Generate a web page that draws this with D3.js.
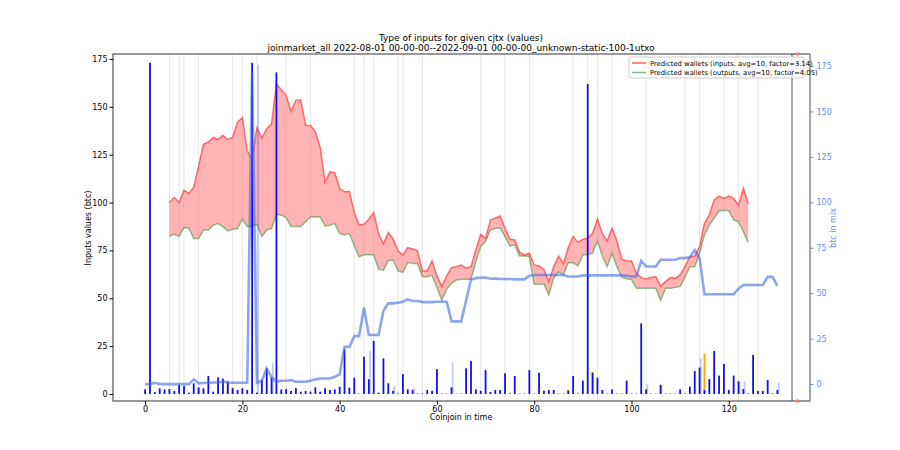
<!DOCTYPE html>
<html><head><meta charset="utf-8">
<script src="https://cdn.jsdelivr.net/npm/d3@7"></script>
<style>body{margin:0;background:#fff}svg{font-family:"DejaVu Sans",sans-serif}</style>
</head><body><svg id="c" width="900" height="450"></svg>
<script>
const titleLines = ["Type of inputs for given cjtx (values)", "joinmarket_all 2022-08-01 00-00-00--2022-09-01 00-00-00_unknown-static-100-1utxo"];
const xTicks = [0,20,40,60,80,100,120];
const yLeftTicks = [0,25,50,75,100,125,150,175];
const yRightTicks = [0,25,50,75,100,125,150,175];
const legendLabels = ["Predicted wallets (inputs, avg=10, factor=3.14)", "Predicted wallets (outputs, avg=10, factor=4.05)"];
const walletStart = 5;
const inputsWallets = [100,102.6,100,106.5,104.7,108,119,130.4,131.6,134,133,135,133,134,142,144.3,127,122.6,139,133.6,138.6,141,162,158.8,156,147.5,153.4,153.7,140.3,140.3,137,128.7,110.4,116,115.6,107.3,105.6,105.7,94.8,88.3,88.7,91.3,94.8,83.8,78.3,84.3,80.9,74.8,72.5,76.5,75.7,74.8,64.3,64.3,69.6,61.7,56.2,61.7,66,66.5,67.4,65.7,66.5,75.2,83.4,81.3,90.9,91.8,93,86.6,80.8,80.5,74,72.6,73.5,67.4,66.9,65.1,58.7,66.5,72,67.9,76.5,82.2,79.2,80.8,81.3,83.9,91.4,83.9,79.9,86.6,79.9,70.4,69.5,69.5,63,60.8,60.1,60.8,61.3,56.4,58.7,60.8,60.4,62.2,66.5,71.8,72.1,77,89.2,93.5,101.4,103.4,102.2,103.4,102.2,98.6,107.5,99.3];
const outputsWallets = [82.3,83.5,82.3,87,86.6,81.2,81.2,85.7,85.7,88.2,89,87.3,85.2,86,86.4,91.3,87.5,87.5,88.7,82.3,85.7,86.4,93.9,93.4,92.2,87.5,87.5,87.5,90,92.5,92.5,92.5,87.8,88.2,89,83.8,83.1,83.8,77.4,71.7,72.7,72.7,72.7,65.2,64.7,69.6,70,64.3,63.5,68.7,68.2,68.2,61.2,61.2,62,55.7,49,54.8,57.8,59.6,59.9,59.9,59.9,69.1,77,79.6,85.7,86.6,86.6,82.2,77.3,77.8,72.1,72.1,71.8,57.3,57.3,57.3,51.7,60.4,63.9,62.2,68.6,68.6,66.9,72.6,73,73.5,79.9,72.1,66.5,73.5,66.5,61,60.1,59.9,55.2,55.2,55.2,55.2,55.2,48.8,55.2,55.2,55.7,56.1,61,66.5,66.5,73.5,83.1,88.3,91.8,95.6,95.8,95.8,90.9,90,84.8,79.2];
const btcInMix = [0,0,0.7,0,0,0,0,0,0,0,2.6,0.4,0.6,0.7,0.9,0.9,1.5,0.9,0.7,0.7,0.7,0.7,172,0.7,1.8,8.6,4,1.3,1.8,1.8,2.2,1.3,1.3,1.3,1.8,2.6,3.1,3.1,3.1,4,5.3,20.5,20.5,26.4,26.4,42,27,27,27,40.4,44.4,44.4,44.8,45.3,46.6,45.7,45.7,45.1,45.1,45.1,45.3,45.3,45.3,34.5,34.5,34.5,46,57.4,58.3,58.6,58.6,58,58,57.8,57.8,57.8,57.6,57.6,57.6,59.6,60,60,60,60,60,60,60,59.2,59.2,59.2,59.8,59.8,59.8,59.8,59.8,59.8,59.8,59.8,59.8,59.6,59.2,59.2,67.8,64.7,64.7,64.7,68.4,68.4,68.4,68.4,69.3,69.3,69.8,73.7,69.3,49.5,49.4,49.4,49.4,49.4,49.4,49.4,52.5,54.5,54.5,54.5,54.5,54.5,59,59,54];
const inputBars = [2.4,173,1,3,2.4,2.6,1.6,4.7,4.2,0.7,5.6,3.3,3,9.4,1.2,8.7,8,6.4,3,2.1,3,2.1,173,0.7,7.3,13.4,8.7,168,2.4,2.6,1.6,3,1.2,1.6,1.2,3.5,1.2,3,2.1,2.4,3.8,23.3,3.3,8.5,0.2,19.5,7.7,27.7,0.7,18.6,5.6,1.7,0.3,10.4,2.4,2.1,0.3,0.3,2.1,1.7,13,0.2,0.2,3.5,0.2,0.2,13.4,17.2,2.4,1.7,12.5,1,2.1,2.1,10.8,0.3,9.4,0.2,0.2,12.5,0.2,11.1,1.7,2.1,2.1,0.2,0.2,1.7,9.4,0.3,7,162,11.1,8.5,2.1,0.2,2.4,0.2,0.2,7,0.2,0.2,36.9,2.4,0.2,0.2,4.7,0.2,0.2,0.2,2.4,0.2,3.8,12,13.8,2.1,7.8,22.5,9.6,15.7,2.1,9.6,6.6,2.6,0.3,20.4,1.6,1.6,7.3,0.3,2.1];
const paleBarIdx = [23,26,46,51,55,63,103,114,122,123,130];
const paleBarVal = [172,16,22.6,4.2,3,16.5,5,18.6,6.6,6.6,5.9];
const orangeBarIdx = [11,17,18,87,92,106,115];
const orangeBarVal = [3.6,7,3.4,2.4,11.5,5,21];
const gridIdx = [5,7,8,11,18,20,23,29,34,43,45,47,52,53,57,69,74,79,88,91,93,96,103,111,114,119,122,126];

const svg = d3.select("#c");
const L=113,R=810,T=54,B=401;
const x = d3.scaleLinear().domain([-6.6,136.7]).range([L,R]);
const yL = d3.scaleLinear().domain([-3.66,177.6]).range([B,T]);
const yR = d3.scaleLinear().domain([-9.3,181.6]).range([B,T]);

svg.append("g").selectAll("line").data(gridIdx).join("line")
 .attr("x1",d=>x(d)).attr("x2",d=>x(d)).attr("y1",T).attr("y2",B)
 .attr("stroke","#e6e6e6").attr("stroke-width",1);

const wIdx = inputsWallets.map((d,i)=>i+walletStart);
const area = d3.area().x(i=>x(i)).y0((i)=>yL(outputsWallets[i-walletStart])).y1(i=>yL(inputsWallets[i-walletStart]));
svg.append("path").datum(wIdx).attr("d",area).attr("fill","#ff8080").attr("opacity",0.6);
const line = arr => d3.line().x((d,i)=>x(i+walletStart)).y(d=>yL(d))(arr);
svg.append("path").attr("d",line(inputsWallets)).attr("fill","none").attr("stroke","#ff4040").attr("stroke-opacity",0.75).attr("stroke-width",1.5);
svg.append("path").attr("d",line(outputsWallets)).attr("fill","none").attr("stroke","#2a8a2a").attr("stroke-opacity",0.5).attr("stroke-width",1.5);

const bw=1.8;
svg.append("g").selectAll("rect").data(orangeBarIdx).join("rect")
 .attr("x",d=>x(d)-bw/2).attr("width",bw)
 .attr("y",(d,i)=>yL(orangeBarVal[i])).attr("height",(d,i)=>yL(0)-yL(orangeBarVal[i])).attr("fill","orange");
svg.append("g").selectAll("rect").data(inputBars).join("rect")
 .attr("x",(d,i)=>x(i)-bw/2).attr("width",bw)
 .attr("y",d=>yL(d)).attr("height",d=>yL(0)-yL(d)).attr("fill","#1010ee");
svg.append("g").selectAll("rect").data(paleBarIdx).join("rect")
 .attr("x",d=>x(d)-bw/2+1.2).attr("width",bw)
 .attr("y",(d,i)=>yL(paleBarVal[i])).attr("height",(d,i)=>yL(0)-yL(paleBarVal[i])).attr("fill","#3050ee").attr("opacity",0.3);

svg.append("path").attr("d",d3.line().x((d,i)=>x(i)).y(d=>yR(d))(btcInMix))
 .attr("fill","none").attr("stroke","#4169e1").attr("stroke-opacity",0.6).attr("stroke-width",2.6);

svg.append("rect").attr("x",L).attr("y",T).attr("width",R-L).attr("height",B-T).attr("fill","none").attr("stroke","#333").attr("stroke-width",1);
svg.append("line").attr("x1",R).attr("x2",R).attr("y1",T).attr("y2",B).attr("stroke","#aaa").attr("stroke-width",1.5);
svg.append("line").attr("x1",792).attr("x2",792).attr("y1",T).attr("y2",B).attr("stroke","#555").attr("stroke-width",1);
[T,B].forEach(yy=>svg.append("rect").attr("x",796).attr("y",yy-1.5).attr("width",3).attr("height",3).attr("fill","#f08080"));

const fs=8;
const gx = svg.append("g").attr("transform",`translate(0,${B})`).call(d3.axisBottom(x).tickValues(xTicks).tickSize(3.5).tickPadding(2).tickFormat(d3.format("d")));
const gl = svg.append("g").attr("transform",`translate(${L},0)`).call(d3.axisLeft(yL).tickValues(yLeftTicks).tickSize(3.5).tickPadding(2).tickFormat(d3.format("d")));
const gr = svg.append("g").attr("transform",`translate(${R},0)`).call(d3.axisRight(yR).tickValues(yRightTicks).tickSize(3.5).tickPadding(3).tickFormat(d3.format("d")));
[gx,gl,gr].forEach(g=>{g.select(".domain").remove();g.selectAll("text").attr("font-size",fs).attr("font-family","DejaVu Sans");});
gr.selectAll("text").attr("fill","#6b8be8");gr.selectAll("line").attr("stroke","#6b8be8");

svg.append("text").attr("x",461).attr("y",41).attr("text-anchor","middle").attr("font-size",9).text(titleLines[0]);
svg.append("text").attr("x",461).attr("y",51).attr("text-anchor","middle").attr("font-size",9).text(titleLines[1]);
svg.append("text").attr("x",461).attr("y",420).attr("text-anchor","middle").attr("font-size",8).text("Coinjoin in time");
svg.append("text").attr("transform","translate(91,228) rotate(-90)").attr("text-anchor","middle").attr("font-size",8).text("Inputs values (btc)");
svg.append("text").attr("transform","translate(836,228) rotate(-90)").attr("text-anchor","middle").attr("font-size",8).attr("fill","#6b8be8").text("btc in mix");

const lg = svg.append("g");
lg.append("rect").attr("x",629).attr("y",57).attr("width",175).attr("height",21).attr("fill","#fff").attr("fill-opacity",0.8).attr("stroke","#ccc").attr("rx",2);
const lcol=["#ff6060","#7fbf7f"];
legendLabels.forEach((t,i)=>{
 lg.append("line").attr("x1",632).attr("x2",646).attr("y1",63+i*9.5).attr("y2",63+i*9.5).attr("stroke",lcol[i]).attr("stroke-width",1.5);
 lg.append("text").attr("x",650).attr("y",65.5+i*9.5).attr("font-size",6.8).text(t);
});
</script></body></html>
